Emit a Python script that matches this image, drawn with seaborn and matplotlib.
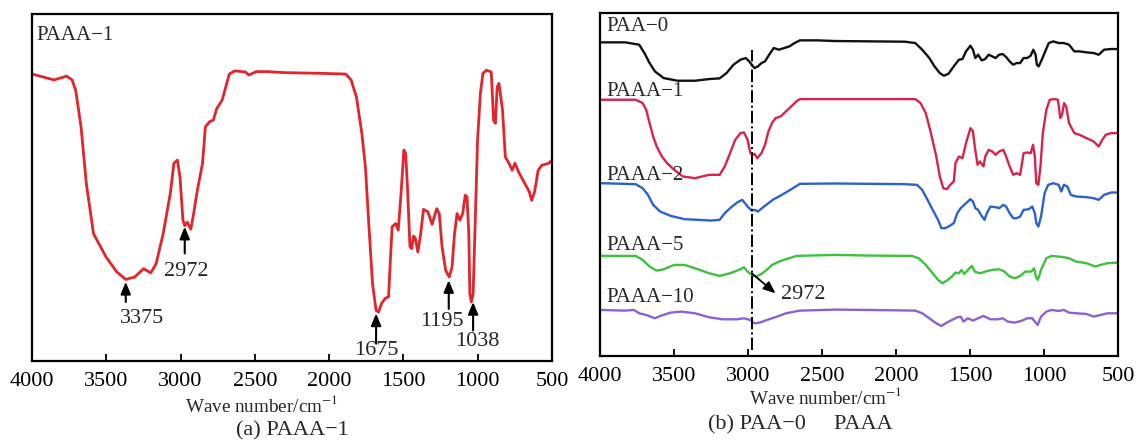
import matplotlib
matplotlib.use("Agg")
import matplotlib.pyplot as plt
import seaborn as sns
import numpy as np

sns.set_theme(style="white")
plt.rcParams['font.family'] = ['Liberation Serif', 'DejaVu Serif']
plt.rcParams['mathtext.fontset'] = 'stix'

# ---------------- data: (a) PAAA-1 ----------------
wn_a = [4000, 3851, 3767, 3730, 3706, 3670, 3634, 3586, 3502, 3430, 3369, 3309, 3249, 3201, 3165, 3117,
        3069, 3045, 3021, 3004, 2984, 2972, 2955, 2931, 2912, 2888, 2852, 2833, 2804, 2780, 2756, 2720,
        2672, 2636, 2564, 2540, 2491, 2420, 2298, 2058, 1888, 1852, 1816, 1780, 1756, 1732, 1708, 1684,
        1667, 1648, 1624, 1600, 1588, 1576, 1552, 1535, 1516, 1497, 1485, 1473, 1456, 1444, 1432, 1420,
        1403, 1384, 1365, 1336, 1307, 1276, 1259, 1240, 1216, 1192, 1173, 1156, 1139, 1120, 1101, 1084,
        1072, 1060, 1053, 1043, 1031, 1019, 1001, 982, 965, 941, 909, 893, 881, 869, 857, 833, 814, 790,
        768, 749, 725, 689, 653, 637, 617, 593, 569, 521, 500]
t_a = [82.7, 81, 82.1, 81, 78, 67.5, 51, 36.7, 30, 25.7, 23.5, 24.2, 26.6, 25.4, 28, 36.7,
       48.3, 57, 57.9, 53, 40.6, 39, 40, 38, 42.5, 49, 57, 67.5, 69, 69.4, 72.8, 75.2,
       82.7, 83.6, 83.3, 82.4, 83.4, 83.4, 83.1, 82.9, 82.7, 81, 76, 65.6, 56, 38.7, 22.3, 14.6,
       14.1, 16.5, 18, 18.5, 29, 38.7, 39.6, 37.7, 48.3, 60.8, 59.8, 50.2, 32.9, 32.4, 36, 35.4,
       31.4, 36.7, 43.7, 43, 39.4, 43.9, 42.5, 32.9, 26.2, 24.2, 27, 36.7, 42.5, 40.6, 42.5, 47.8,
       47.3, 36.7, 19.4, 17, 19.4, 36.7, 63.7, 77.1, 82.9, 83.8, 83.3, 69.4, 68.5, 79, 80, 72.3, 58.8, 57,
       55, 57, 54.5, 51.6, 48.8, 46.3, 48.8, 55, 56.4, 57, 57.9]

# peak annotations (a): label, wavenumber of peak, transmittance at arrow tip
peak_labels_a = ["3375", "2972", "1675", "1195", "1038"]
peak_wn_a = [3369, 2972, 1684, 1195, 1031]
peak_tip_a = [22.8, 38.7, 13.7, 23.3, 17.0]
peak_tail_a = [17.0, 31.0, 5.0, 15.0, 8.8]
peak_text_x_a = [3261, 2960, 1684, 1240, 1001]
peak_text_y_a = [12.2, 25.7, 3.0, 11.3, 5.5]

# ---------------- data: (b) PAA-0 and PAAA ----------------
wn_paa0 = [4000, 3830, 3735, 3700, 3665, 3629, 3570, 3476, 3358, 3263, 3192, 3145, 3098, 3051, 3015, 2992,
           2975, 2956, 2933, 2909, 2885, 2857, 2826, 2791, 2755, 2720, 2685, 2649, 2531, 2413, 2177, 1941,
           1870, 1823, 1775, 1740, 1704, 1676, 1645, 1610, 1575, 1551, 1527, 1497, 1480, 1464, 1445, 1421,
           1397, 1374, 1350, 1327, 1303, 1279, 1256, 1232, 1208, 1185, 1161, 1138, 1114, 1090, 1072, 1057,
           1048, 1036, 1020, 996, 968, 937, 901, 866, 831, 795, 760, 713, 665, 630, 594, 547, 500]
t_paa0 = [94.0, 94.0, 93.3, 90.8, 87.8, 85.3, 83.3, 82.5, 82.5, 83.0,
          83.2, 84.8, 87.3, 88.8, 89.3, 88.3, 87.3, 86.3, 86.8, 87.8,
          88.3, 90.3, 92.3, 91.8, 92.3, 92.8, 93.8, 94.6, 94.6, 94.4,
          94.3, 94.2, 93.8, 91.8, 89.3, 86.8, 84.8, 84.0, 84.6, 86.8,
          88.8, 89.0, 91.3, 93.0, 91.8, 89.3, 90.3, 88.6, 89.0, 90.3,
          89.8, 89.3, 90.3, 90.5, 89.6, 88.3, 87.3, 87.8, 87.8, 89.3,
          89.3, 90.0, 91.8, 90.3, 87.3, 86.8, 88.3, 90.8, 93.8, 94.3,
          93.8, 93.8, 93.3, 91.3, 91.3, 91.0, 90.8, 90.3, 91.8, 92.0, 92.0]

wn_paaa1 = [4000, 3854, 3759, 3712, 3688, 3665, 3641, 3617, 3582, 3547,
            3499, 3440, 3358, 3263, 3192, 3157, 3121, 3086, 3051, 3027,
            3003, 2984, 2968, 2956, 2937, 2909, 2885, 2862, 2838, 2814,
            2779, 2744, 2708, 2673, 2649, 2531, 2413, 2177, 1941, 1870,
            1834, 1799, 1764, 1728, 1704, 1681, 1657, 1634, 1610, 1598,
            1575, 1551, 1527, 1497, 1480, 1468, 1449, 1433, 1409, 1397,
            1374, 1350, 1327, 1303, 1275, 1256, 1232, 1208, 1185, 1161,
            1138, 1114, 1090, 1074, 1062, 1052, 1038, 1024, 1008, 984,
            961, 930, 906, 890, 878, 864, 850, 831, 795, 760,
            713, 665, 630, 606, 583, 547, 500]
t_paaa1 = [76.8, 76.8, 76.8, 75.8, 73.8, 69.8, 65.8, 62.8, 59.8, 57.8,
           55.8, 53.8, 53.3, 54.3, 54.3, 56.8, 60.8, 64.8, 66.8, 67.0,
           64.8, 60.8, 60.3, 60.6, 59.3, 60.8, 63.3, 67.3, 69.8, 71.3,
           71.8, 73.3, 74.8, 76.3, 77.0, 77.0, 77.0, 77.0, 77.0, 77.0,
           75.8, 72.8, 66.8, 59.8, 53.8, 50.3, 50.0, 51.3, 52.3, 57.8,
           59.8, 59.3, 63.8, 68.3, 67.3, 62.8, 57.3, 58.3, 56.8, 59.8,
           61.8, 61.3, 60.3, 61.3, 61.8, 59.8, 56.8, 54.3, 54.8, 54.3,
           60.8, 61.0, 60.8, 63.3, 59.8, 51.8, 51.3, 56.8, 66.8, 73.8,
           76.8, 77.0, 76.8, 71.3, 72.3, 75.8, 74.8, 69.8, 66.8, 66.3,
           65.3, 64.3, 62.8, 64.8, 66.3, 66.8, 66.8]

wn_paaa2 = [4000, 3759, 3712, 3676, 3641, 3594, 3523, 3428, 3334, 3251,
            3192, 3157, 3121, 3074, 3039, 3003, 2975, 2956, 2933, 2897,
            2862, 2826, 2791, 2744, 2696, 2649, 2413, 2177, 1941, 1858,
            1823, 1787, 1752, 1716, 1693, 1669, 1645, 1610, 1586, 1563,
            1527, 1497, 1480, 1464, 1445, 1426, 1402, 1386, 1362, 1327,
            1303, 1275, 1256, 1232, 1208, 1185, 1161, 1138, 1102, 1079,
            1062, 1052, 1038, 1020, 996, 972, 937, 901, 883, 866,
            842, 819, 783, 713, 665, 630, 594, 547, 500]
t_paaa2 = [51.8, 51.5, 50.3, 48.3, 45.3, 43.3, 42.0, 41.0, 40.8, 40.6,
           40.8, 42.8, 44.3, 46.0, 46.8, 44.8, 43.6, 43.8, 43.3, 44.6,
           45.8, 47.0, 47.8, 49.0, 50.3, 51.6, 51.7, 51.6, 51.5, 51.3,
           49.8, 46.8, 43.8, 40.8, 38.3, 38.3, 38.8, 39.8, 42.8, 44.3,
           45.8, 47.0, 46.3, 44.3, 43.8, 42.3, 40.8, 42.8, 44.8, 44.6,
           44.3, 45.3, 44.8, 42.8, 41.3, 41.3, 41.8, 43.8, 44.0, 44.8,
           42.8, 39.8, 38.8, 41.8, 48.8, 51.3, 51.8, 51.3, 49.3, 51.3,
           50.8, 48.3, 47.8, 47.6, 47.3, 46.8, 48.3, 49.0, 49.0]

wn_paaa5 = [4000, 3759, 3712, 3665, 3617, 3570, 3499, 3428, 3358, 3263,
            3192, 3121, 3051, 3027, 3003, 2975, 2944, 2909, 2873, 2838,
            2791, 2744, 2673, 2413, 2177, 1893, 1846, 1799, 1752, 1716,
            1686, 1657, 1622, 1598, 1575, 1558, 1539, 1504, 1487, 1468,
            1433, 1397, 1350, 1303, 1267, 1232, 1197, 1161, 1126, 1086,
            1067, 1055, 1041, 1020, 984, 949, 901, 866, 831, 783,
            713, 653, 618, 571, 500]
t_paaa5 = [30.0, 30.0, 28.8, 26.8, 25.6, 26.0, 27.3, 27.3, 26.3, 24.8,
           24.0, 24.8, 26.0, 26.6, 25.3, 24.3, 23.8, 24.6, 25.8, 27.3,
           28.3, 29.0, 30.0, 30.3, 30.1, 30.0, 29.3, 27.3, 24.8, 22.8,
           21.8, 22.6, 23.8, 25.0, 24.8, 25.8, 24.6, 26.3, 27.0, 25.3,
           24.8, 25.3, 25.8, 26.0, 25.3, 23.8, 23.3, 24.0, 25.3, 25.3,
           26.3, 23.8, 22.8, 25.8, 29.3, 30.0, 29.8, 29.6, 29.3, 28.3,
           27.8, 26.8, 27.3, 27.8, 28.0]

wn_paaa10 = [4000, 3830, 3771, 3735, 3688, 3629, 3594, 3523, 3452, 3358,
             3263, 3169, 3074, 3027, 2984, 2956, 2921, 2885, 2838, 2791,
             2744, 2649, 2413, 2177, 1870, 1823, 1775, 1728, 1693, 1657,
             1622, 1586, 1563, 1544, 1515, 1480, 1445, 1409, 1362, 1315,
             1279, 1244, 1197, 1149, 1114, 1079, 1062, 1043, 1020, 984,
             949, 901, 866, 831, 783, 713, 665, 618, 571, 500]
t_paaa10 = [13.8, 13.6, 13.8, 12.8, 12.3, 11.3, 12.0, 13.0, 13.3, 12.8,
            11.6, 11.0, 11.0, 11.3, 10.8, 9.8, 10.0, 10.6, 11.3, 12.0,
            12.8, 13.6, 13.9, 13.8, 13.6, 12.8, 11.3, 9.8, 9.0, 10.0,
            10.8, 11.6, 11.8, 10.3, 11.3, 10.6, 11.3, 12.0, 11.0, 11.0,
            11.3, 10.3, 10.0, 10.6, 11.3, 11.3, 10.3, 9.3, 11.8, 13.3,
            13.8, 13.5, 13.8, 13.0, 12.8, 12.6, 11.8, 12.3, 12.8, 12.8]

series_names_b = ["PAA\u22120", "PAAA\u22121", "PAAA\u22122", "PAAA\u22125", "PAAA\u221210"]
series_wn_b = [wn_paa0, wn_paaa1, wn_paaa2, wn_paaa5, wn_paaa10]
series_t_b = [t_paa0, t_paaa1, t_paaa2, t_paaa5, t_paaa10]
series_colors_b = ["#111111", "#d8234a", "#2b62cc", "#3dc23d", "#8c62d2"]
label_top_b = [101.5, 82.0, 57.0, 36.0, 20.5]

marker_wn_b = 2972
tick_values = [4000, 3500, 3000, 2500, 2000, 1500, 1000, 500]

# ---------------- figure ----------------
W, H = 1139, 442
fig = plt.figure(figsize=(W / 100, H / 100), dpi=100)
fig.patch.set_facecolor("white")

def px_axes(x0, y0, x1, y1):
    return fig.add_axes([x0 / W, 1 - y1 / H, (x1 - x0) / W, (y1 - y0) / H])

ax_a = px_axes(32, 14, 552, 361)
ax_b = px_axes(600, 13, 1118, 356)

FS_TICK = 16
for ax in (ax_a, ax_b):
    ax.set_facecolor("white")
    ax.set_xlim(4000, 500)
    ax.set_xticks(tick_values)
    ax.set_xticklabels([str(v) for v in tick_values], fontsize=FS_TICK)
    ax.set_yticks([])
    ax.tick_params(axis="x", direction="in", length=5, width=1.3, bottom=True, top=False,
                   pad=8, colors="black")
    for s in ax.spines.values():
        s.set_visible(True)
        s.set_color("black")
        s.set_linewidth(1.6)
    ax.set_xlabel("")
    ax.set_ylabel("")

# (a)
sns.lineplot(x=wn_a, y=t_a, ax=ax_a, color="#e3242b", linewidth=2.0, estimator=None)
ax_a.set_ylim(0, 100)
ax_a.set_xlim(4000, 500)
ax_a.set_xlabel(""); ax_a.set_ylabel("")
ax_a.text(3971, 96.5, "PAAA\u22121", fontsize=15, ha="left", va="top")
for lab, px, tip, tail, tx, ty in zip(peak_labels_a, peak_wn_a, peak_tip_a, peak_tail_a,
                                      peak_text_x_a, peak_text_y_a):
    ax_a.annotate("", xy=(px, tip), xytext=(px, tail),
                  arrowprops=dict(arrowstyle="-|>,head_length=0.6,head_width=0.25",
                                  color="black", lw=1.5, shrinkA=0, shrinkB=0))
    ax_a.text(tx, ty, lab, fontsize=FS_TICK, ha="center", va="center")

# (b)
for name, wn, t, c, ly in zip(series_names_b, series_wn_b, series_t_b, series_colors_b, label_top_b):
    sns.lineplot(x=wn, y=t, ax=ax_b, color=c, linewidth=1.7, estimator=None)
    ax_b.text(3960, ly, name, fontsize=15, ha="left", va="top")
ax_b.set_ylim(0, 102.8)
ax_b.set_xlim(4000, 500)
ax_b.set_xlabel(""); ax_b.set_ylabel("")
ax_b.plot([marker_wn_b, marker_wn_b], [1.8, 91.8], color="black", lw=1.4, linestyle="-.")
ax_b.annotate("", xy=(2814, 18.8), xytext=(2975, 24.8),
              arrowprops=dict(arrowstyle="-|>,head_length=0.6,head_width=0.25",
                              color="black", lw=1.3, shrinkA=0, shrinkB=0))
ax_b.text(2779, 18.3, str(marker_wn_b), fontsize=FS_TICK, ha="left", va="center")

# axis labels and captions
fig.text(262 / W, 1 - 405 / H, "Wave number/cm$^{-1}$", fontsize=13.8, ha="center", va="center")
fig.text(292 / W, 1 - 431 / H, "(a) PAAA\u22121", fontsize=16, ha="center", va="center")
fig.text(826 / W, 1 - 398 / H, "Wave number/cm$^{-1}$", fontsize=13.8, ha="center", va="center")
fig.text(800 / W, 1 - 425 / H, "(b) PAA\u22120     PAAA", fontsize=16, ha="center", va="center")

fig.savefig("out.png", dpi=100, facecolor="white")
